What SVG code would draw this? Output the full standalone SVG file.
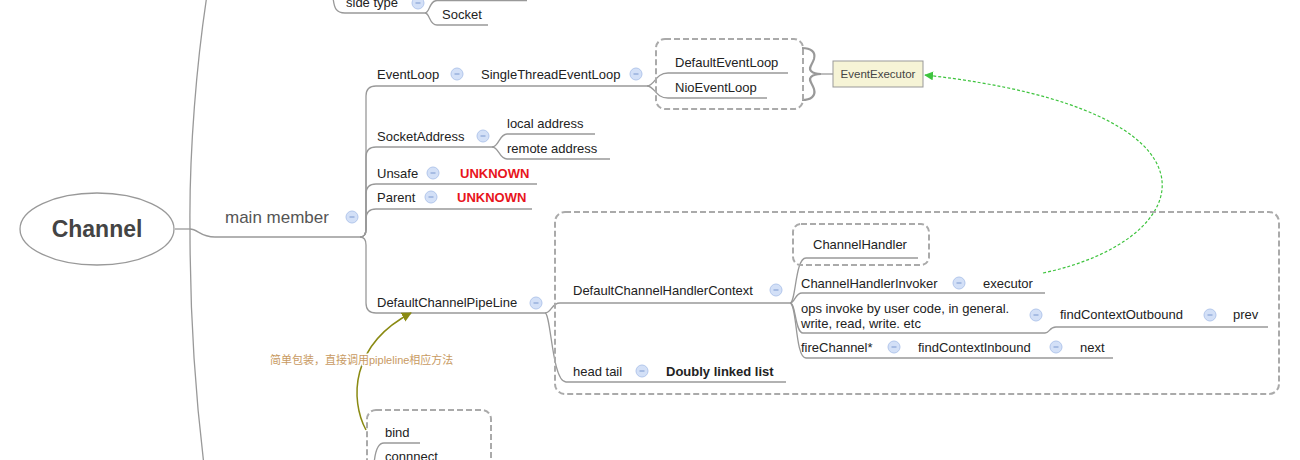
<svg xmlns="http://www.w3.org/2000/svg" xmlns:xlink="http://www.w3.org/1999/xlink" width="1300" height="460" viewBox="0 0 1300 460">
<style>
  .t { font-family: "Liberation Sans", Arial, sans-serif; font-size: 13px; fill: #222; }
  .b { font-weight: bold; }
  .red { fill: #e8141c; font-weight: bold; }
  .ln { fill: none; stroke: #999; stroke-width: 1.3; }
  .dash { fill: none; stroke: #aaa; stroke-width: 2; stroke-dasharray: 6 3; }
  .brace { fill: none; stroke: #999; stroke-width: 2.2; }
</style>
<defs>
  <g id="minus">
    <circle cx="0" cy="0" r="6" fill="#d3e0f7" stroke="#b3c7ec" stroke-width="1"/>
    <line x1="-2.5" y1="0" x2="2.5" y2="0" stroke="#7b98cf" stroke-width="1"/>
  </g>
  <marker id="arrOlive" viewBox="0 0 10 10" refX="9" refY="5" markerWidth="10" markerHeight="10" orient="auto" markerUnits="userSpaceOnUse">
    <path d="M0,0 L10,5 L0,10 z" fill="#8a8a12"/>
  </marker>
  <marker id="arrGreen" viewBox="0 0 10 10" refX="9" refY="5" markerWidth="9" markerHeight="9" orient="auto" markerUnits="userSpaceOnUse">
    <path d="M0,0 L10,5 L0,10 z" fill="#3fc43f"/>
  </marker>
</defs>

<g id="connectors">
  <!-- root spine -->
  <path class="ln" d="M190,230 C189,150 197,60 207,-5"/>
  <path class="ln" d="M190,230 C190,320 196,400 204,465"/>
  <path class="ln" d="M175,229 L190,229"/>
  <path class="ln" d="M190,229 C198,229 200,237 215,237 L360,237"/>
  <!-- side type (top) -->
  <path class="ln" d="M333,-3 C334,8 336,13 345,13 L425,13"/>
  <path class="ln" d="M425,13 C430,13 429,25 437,25 L488,25"/>
  <path class="ln" d="M425,13 C430,13 429,0.5 437,0.5 L527,0.5"/>
  <!-- main member children -->
  <path class="ln" d="M360,237 Q366,237 366,229 L366,96 Q366,86 376,86 L647,86"/>
  <path class="ln" d="M360,237 Q366,237 366,229 L366,157 Q366,147 376,147 L492,147"/>
  <path class="ln" d="M360,237 Q366,237 366,229 L366,194 Q366,184 376,184 L537,184"/>
  <path class="ln" d="M360,237 Q366,237 366,229 L366,219 Q366,209 376,209 L532,209"/>
  <path class="ln" d="M360,237 Q366,237 366,245 L366,303 Q366,313 376,313 L545,313"/>
  <!-- SingleThreadEventLoop children -->
  <path class="ln" d="M647,86 C655,86 655,73 668,73 L788,73"/>
  <path class="ln" d="M647,86 C655,86 655,98 668,98 L767,98"/>
  <!-- brace to EventExecutor -->
  <path class="brace" d="M802,48 C811,48 816,52 814,59 C812,65 808,68 811,71 C813,73 817,74 821,74 C817,74 813,75 811,77 C808,80 812,83 814,89 C816,96 811,100 802,100"/>
  <path class="ln" d="M821,74 L833,74"/>
  <!-- SocketAddress children -->
  <path class="ln" d="M492,147 C499,147 499,134 507,134 L595,134"/>
  <path class="ln" d="M492,147 C499,147 499,159 507,159 L610,159"/>
  <!-- DefaultChannelPipeLine children -->
  <path class="ln" d="M545,313 C552,313 551,303 560,303 L790,303"/>
  <path class="ln" d="M545,313 C551,313 552,382 566,382 L786,382"/>
  <!-- DefaultChannelHandlerContext children -->
  <path class="ln" d="M790,303 C796,303 795,258 806,258 L918,258"/>
  <path class="ln" d="M790,303 C795,303 795,293 802,293 L1045,293"/>
  <path class="ln" d="M790,303 C796,303 795,333 803,333 L1045,333"/>
  <path class="ln" d="M1045,333 C1050,333 1049,327 1056,327 L1268,327"/>
  <path class="ln" d="M790,303 C797,303 795,358 806,358 L1113,358"/>
  <!-- bind group -->
  <path class="ln" d="M420,443 L384,443 C378,443 375,450 374,465"/>
  <!-- relation arrows -->
  <path d="M366,430 C350,400 350,345 411,313" fill="none" stroke="#8a8a12" stroke-width="1.5" marker-end="url(#arrOlive)"/>
  <path d="M1043,273 C1200,240 1240,110 925,75" fill="none" stroke="#3fc43f" stroke-width="1.2" stroke-dasharray="3 2" marker-end="url(#arrGreen)"/>
</g>

<g id="node-channel">
  <ellipse cx="97" cy="229" rx="77" ry="36" fill="#fff" stroke="#999" stroke-width="1.3"/>
  <text x="97" y="237" text-anchor="middle" font-family="Liberation Sans, Arial, sans-serif" font-size="23" font-weight="bold" fill="#444">Channel</text>
</g>
<g id="node-main-member">
  <text x="225" y="223" font-family="Liberation Sans, Arial, sans-serif" font-size="17" fill="#555">main member</text>
  <use xlink:href="#minus" x="352" y="217"/>
</g>
<g id="node-side-type">
  <text class="t" x="346" y="7">side type</text>
  <use xlink:href="#minus" x="418" y="3"/>
</g>
<g id="node-socket"><text class="t" x="442" y="19">Socket</text></g>

<g id="node-eventloop">
  <text class="t" x="377" y="79">EventLoop</text>
  <use xlink:href="#minus" x="457" y="74"/>
</g>
<g id="node-singlethreadeventloop">
  <text class="t" x="481" y="79">SingleThreadEventLoop</text>
  <use xlink:href="#minus" x="636" y="74"/>
</g>
<g id="group-eventloops">
  <rect class="dash" x="656" y="39" width="147" height="70" rx="9"/>
</g>
<g id="node-defaulteventloop"><text class="t" x="675" y="67">DefaultEventLoop</text></g>
<g id="node-nioeventloop"><text class="t" x="675" y="92">NioEventLoop</text></g>
<g id="node-eventexecutor">
  <rect x="833" y="61" width="90" height="26" fill="#f6f4d6" stroke="#999" stroke-width="1"/>
  <text x="878" y="78" text-anchor="middle" font-family="Liberation Sans, Arial, sans-serif" font-size="11.5" fill="#444">EventExecutor</text>
</g>

<g id="node-socketaddress">
  <text class="t" x="377" y="141">SocketAddress</text>
  <use xlink:href="#minus" x="483" y="136"/>
</g>
<g id="node-local-address"><text class="t" x="507" y="128">local address</text></g>
<g id="node-remote-address"><text class="t" x="507" y="153">remote address</text></g>

<g id="node-unsafe">
  <text class="t" x="377" y="178">Unsafe</text>
  <use xlink:href="#minus" x="433" y="173"/>
</g>
<g id="node-unsafe-unknown"><text class="t red" x="460" y="178">UNKNOWN</text></g>
<g id="node-parent">
  <text class="t" x="377" y="202">Parent</text>
  <use xlink:href="#minus" x="431" y="197"/>
</g>
<g id="node-parent-unknown"><text class="t red" x="457" y="202">UNKNOWN</text></g>

<g id="node-defaultchannelpipeline">
  <text class="t" x="377" y="307">DefaultChannelPipeLine</text>
  <use xlink:href="#minus" x="536" y="303"/>
</g>
<g id="group-pipeline">
  <rect class="dash" x="555" y="212" width="724" height="182" rx="10"/>
</g>
<g id="node-dchc">
  <text class="t" x="573" y="295">DefaultChannelHandlerContext</text>
  <use xlink:href="#minus" x="776" y="290"/>
</g>
<g id="node-channelhandler">
  <rect class="dash" x="793" y="224" width="136" height="41" rx="8"/>
  <text class="t" x="813" y="249">ChannelHandler</text>
</g>
<g id="node-channelhandlerinvoker">
  <text class="t" x="801" y="288">ChannelHandlerInvoker</text>
  <use xlink:href="#minus" x="959" y="283"/>
</g>
<g id="node-executor"><text class="t" x="983" y="288">executor</text></g>
<g id="node-ops">
  <text class="t" x="801" y="313">ops invoke by user code, in general.</text>
  <text class="t" x="801" y="328">write, read, write. etc</text>
  <use xlink:href="#minus" x="1036" y="315"/>
</g>
<g id="node-findcontextoutbound">
  <text class="t" x="1060" y="319">findContextOutbound</text>
  <use xlink:href="#minus" x="1210" y="315"/>
</g>
<g id="node-prev"><text class="t" x="1233" y="319">prev</text></g>
<g id="node-firechannel">
  <text class="t" x="801" y="352">fireChannel*</text>
  <use xlink:href="#minus" x="894" y="347"/>
</g>
<g id="node-findcontextinbound">
  <text class="t" x="918" y="352">findContextInbound</text>
  <use xlink:href="#minus" x="1056" y="347"/>
</g>
<g id="node-next"><text class="t" x="1080" y="352">next</text></g>
<g id="node-headtail">
  <text class="t" x="573" y="376">head tail</text>
  <use xlink:href="#minus" x="642" y="371"/>
</g>
<g id="node-doubly"><text class="t b" x="666" y="376">Doubly linked list</text></g>

<g id="group-ops">
  <rect class="dash" x="367" y="410" width="124" height="62" rx="9"/>
</g>
<g id="node-bind"><text class="t" x="385" y="437">bind</text></g>
<g id="node-connnect"><text class="t" x="385" y="461">connnect</text></g>

<g id="label-wrap">
  <text x="270" y="364" font-family="Liberation Sans, 'Noto Sans CJK SC', sans-serif" font-size="11" fill="#c89a62" stroke="#fff" stroke-width="3" stroke-linejoin="round" paint-order="stroke">简单包装，直接调用pipleline相应方法</text>
</g>
</svg>
